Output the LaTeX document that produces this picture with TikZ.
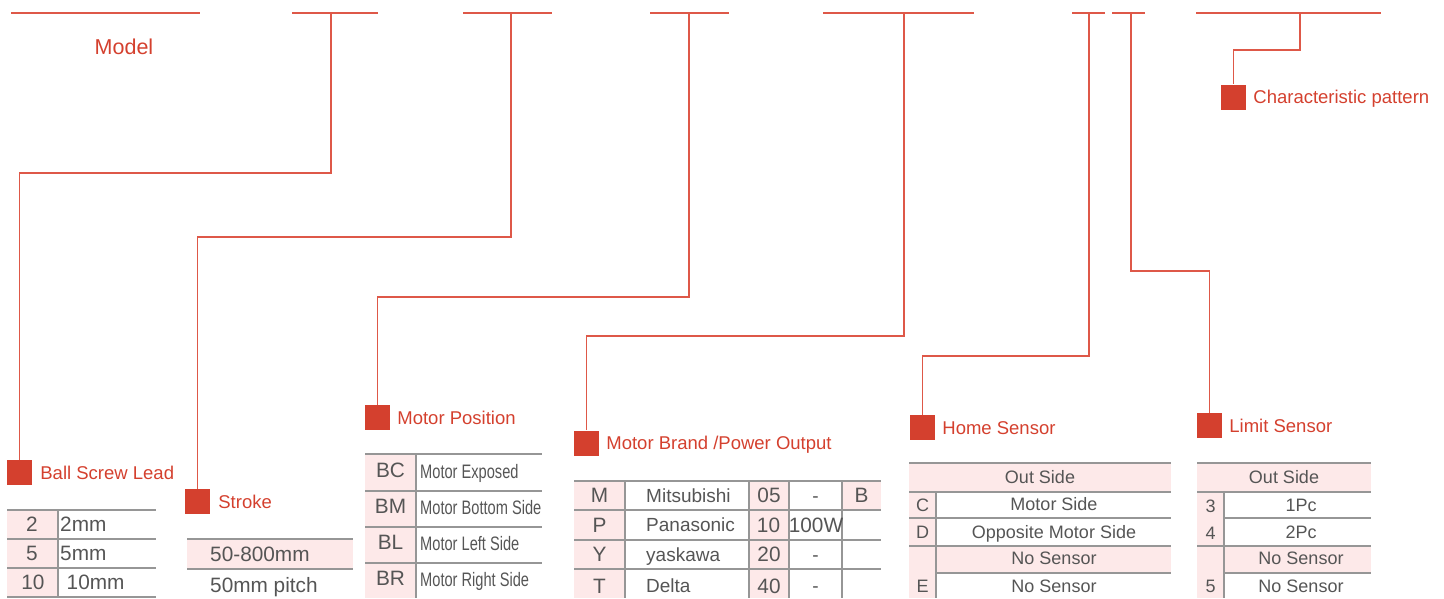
\documentclass[tikz,border=0pt]{standalone}
\usepackage{fontspec}
\setmainfont{Liberation Sans}
\newfontfamily\narrowsans[FakeStretch=0.75]{Liberation Sans}
\usetikzlibrary{positioning}
\definecolor{codered}{RGB}{212,64,46}
\definecolor{linkred}{RGB}{222,88,72}
\definecolor{cellgrey}{RGB}{150,150,150}
\definecolor{textgrey}{RGB}{85,85,85}
\definecolor{cellpink}{RGB}{253,233,233}

\begin{document}
\begin{tikzpicture}[
  x=1pt, y=-1pt,
  bar/.style={draw=linkred, line width=1.5pt},
  link/.style={draw=linkred, line width=1.5pt},
  tagbox/.style={fill=codered, minimum size=25pt, inner sep=0pt},
  lbl/.style={text=codered, inner sep=0pt, text height=13.5pt, text depth=0pt, font=\fontsize{18.5}{20}\selectfont},
  rule/.style={draw=cellgrey, line width=1.6pt},
  pinkcell/.style={fill=cellpink},
  cell/.style={text=textgrey, inner sep=0pt, text height=13.6pt, text depth=0pt, font=\fontsize{19}{21}\selectfont},
  widecell/.style={text=textgrey, inner sep=0pt, text height=14.5pt, text depth=0pt, font=\fontsize{20.8}{23}\selectfont},
  smallcell/.style={text=textgrey, inner sep=0pt, text height=13pt, text depth=0pt, font=\fontsize{18}{20}\selectfont},
  narrowcell/.style={text=textgrey, inner sep=0pt, anchor=west, text height=14pt, text depth=0pt, font=\narrowsans\fontsize{19.5}{21}\selectfont}
]
\useasboundingbox (0,0) rectangle (1444,598);

% code bars
\draw[bar] (11,13) -- (200,13);
\draw[bar] (292,13) -- (378,13);
\draw[bar] (463,13) -- (552,13);
\draw[bar] (650,13) -- (729,13);
\draw[bar] (823,13) -- (974,13);
\draw[bar] (1072,13) -- (1105,13);
\draw[bar] (1112,13) -- (1145,13);
\draw[bar] (1196,13) -- (1381,13);
\coordinate (b2) at (331,13);
\coordinate (b3) at (511,13);
\coordinate (b4) at (689,13);
\coordinate (b5) at (904,13);
\coordinate (b6) at (1089,13);
\coordinate (b7) at (1131,13);
\coordinate (b8) at (1300,13);
\node[text=codered, inner sep=0pt, font=\fontsize{21.5}{24}\selectfont] (model) at (124,47) {Model};

% tags
\node[tagbox] (lead) at (19.5,472.5) {};
\node[tagbox] (stroke) at (197.5,501.5) {};
\node[tagbox] (mpos) at (377.5,417.5) {};
\node[tagbox] (brand) at (586.5,443) {};
\node[tagbox] (home) at (922.5,427.5) {};
\node[tagbox] (limit) at (1209.5,425.5) {};
\node[tagbox] (chara) at (1233.5,97) {};
\node[lbl, right=8pt of lead] (leadt) {Ball Screw Lead};
\node[lbl, right=8pt of stroke] (stroket) {Stroke};
\node[lbl, right=7pt of mpos] (mpost) {Motor Position};
\node[lbl, right=7pt of brand] (brandt) {Motor Brand /Power Output};
\node[lbl, right=7pt of home] (homet) {Home Sensor};
\node[lbl, right=7pt of limit] (limitt) {Limit Sensor};
\node[lbl, right=7pt of chara] (charat) {Characteristic pattern};

% links
\draw[link] (b2) -- ++(0,160) -| (lead.north);
\draw[link] (b3) -- ++(0,224) -| (stroke.north);
\draw[link] (b4) -- ++(0,284) -| (mpos.north);
\draw[link] (b5) -- ++(0,323) -| (brand.north);
\draw[link] (b6) -- ++(0,343) -| (home.north);
\draw[link] (b7) -- ++(0,258) -| (limit.north);
\draw[link] (b8) -- ++(0,37) -| (chara.north);

% ball screw lead table
\fill[pinkcell] (7,510) rectangle (58,598);
\draw[rule] (7,510) -- (156,510) (7,539) -- (156,539) (7,568) -- (156,568) (7,597) -- (156,597)
  (58,510) -- (58,598);
\node[widecell] (ld2) at (32,524.5) {2};
\node[widecell] (ld5) at (32,553.5) {5};
\node[widecell] (ld10) at (33,582.5) {10};
\node[widecell, anchor=west] (ld2v) at (60,524.5) {2mm};
\node[widecell, anchor=west] (ld5v) at (60,553.5) {5mm};
\node[widecell, anchor=west] (ld10v) at (66.5,582.5) {10mm};

% stroke table
\fill[pinkcell] (187,539) rectangle (353,569);
\draw[rule] (187,539) -- (353,539) (187,569) -- (353,569);
\node[widecell, anchor=west] (st1) at (210,554) {50-800mm};
\node[widecell, anchor=west] (st2) at (210,585) {50mm pitch};

% motor position table
\fill[pinkcell] (365,454) rectangle (416,598);
\draw[rule] (365,454) -- (542,454) (365,491) -- (542,491) (365,527) -- (542,527) (365,563) -- (542,563)
  (416,454) -- (416,598);
\node[widecell] (mpbc) at (390.5,470.5) {BC};
\node[widecell] (mpbm) at (390.5,506.5) {BM};
\node[widecell] (mpbl) at (390.5,542.5) {BL};
\node[widecell] (mpbr) at (390.5,578.5) {BR};
\node[narrowcell] (mpbcv) at (420,471.5) {Motor Exposed};
\node[narrowcell] (mpbmv) at (420,507.5) {Motor Bottom Side};
\node[narrowcell] (mpblv) at (420,543.5) {Motor Left Side};
\node[narrowcell] (mpbrv) at (420,579.5) {Motor Right Side};

% motor brand / power table
\fill[pinkcell] (574,481) rectangle (625,598);
\fill[pinkcell] (749,481) rectangle (789,598);
\fill[pinkcell] (842,481) rectangle (881,510);
\draw[rule] (574,481) -- (881,481) (574,510) -- (881,510) (574,540) -- (881,540) (574,569) -- (881,569)
  (625,481) -- (625,598) (749,481) -- (749,598) (789,481) -- (789,598) (842,481) -- (842,598);
\node[widecell] (bm) at (599.5,495.5) {M};
\node[widecell] (bp) at (599.5,525) {P};
\node[widecell] (by) at (599.5,554.5) {Y};
\node[widecell] (bt) at (599.5,586) {T};
\node[cell, anchor=west] (bmv) at (646,495.5) {Mitsubishi};
\node[cell, anchor=west] (bpv) at (646,525) {Panasonic};
\node[cell, anchor=west] (byv) at (646,554.5) {yaskawa};
\node[cell, anchor=west] (btv) at (646,586) {Delta};
\node[widecell] (pw05) at (769,495.5) {05};
\node[widecell] (pw10) at (768.5,525) {10};
\node[widecell] (pw20) at (769,554.5) {20};
\node[widecell] (pw40) at (769,586) {40};
\node[cell] (pw05v) at (815.5,495.5) {-};
\node[widecell] (pw10v) at (816,525) {100W};
\node[cell] (pw20v) at (815.5,554.5) {-};
\node[cell] (pw40v) at (815.5,586) {-};
\node[widecell] (pwb) at (861.5,495.5) {B};

% home sensor table
\fill[pinkcell] (909,463) rectangle (1171,492);
\fill[pinkcell] (909,492) rectangle (936,598);
\fill[pinkcell] (936,546) rectangle (1171,573);
\draw[rule] (909,463) -- (1171,463) (909,492) -- (1171,492) (909,518) -- (1171,518) (909,546) -- (1171,546)
  (936,573) -- (1171,573) (936,492) -- (936,598);
\node[smallcell] (hsout) at (1040,477) {Out Side};
\node[smallcell] (hsc) at (922.5,505) {C};
\node[smallcell] (hsd) at (922.5,532) {D};
\node[smallcell] (hse) at (922.5,586) {E};
\node[smallcell] (hscv) at (1054,504) {Motor Side};
\node[smallcell] (hsdv) at (1054,531.5) {Opposite Motor Side};
\node[smallcell] (hsn1) at (1054,558) {No Sensor};
\node[smallcell] (hsn2) at (1054,585.5) {No Sensor};

% limit sensor table
\fill[pinkcell] (1197,463) rectangle (1371,492);
\fill[pinkcell] (1197,492) rectangle (1224,598);
\fill[pinkcell] (1224,546) rectangle (1371,573);
\draw[rule] (1197,463) -- (1371,463) (1197,492) -- (1371,492) (1224,518) -- (1371,518) (1197,546) -- (1371,546)
  (1224,573) -- (1371,573) (1224,492) -- (1224,598);
\node[smallcell] (lsout) at (1284,477) {Out Side};
\node[smallcell] (ls3) at (1210.5,506) {3};
\node[smallcell] (ls4) at (1210.5,533) {4};
\node[smallcell] (ls5) at (1210.5,585.5) {5};
\node[smallcell] (ls3v) at (1301,505) {1Pc};
\node[smallcell] (ls4v) at (1301,532) {2Pc};
\node[smallcell] (lsn1) at (1301,558) {No Sensor};
\node[smallcell] (lsn2) at (1301,585.5) {No Sensor};
\end{tikzpicture}
\end{document}
